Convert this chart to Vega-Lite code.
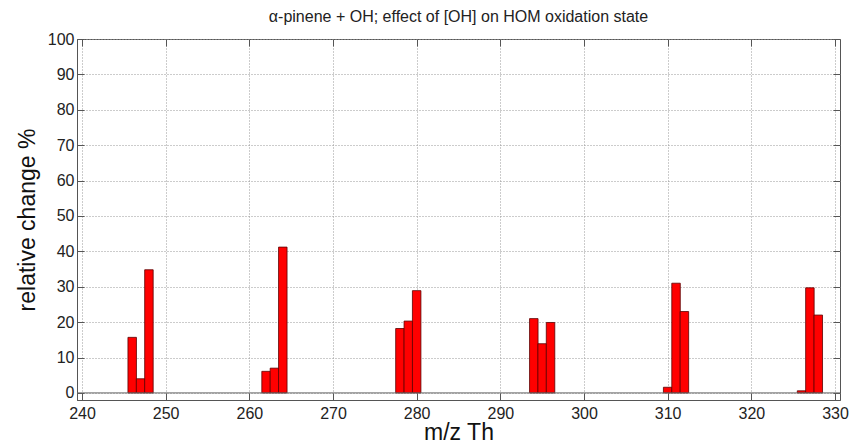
{
  "$schema": "https://vega.github.io/schema/vega-lite/v6.json",
  "width": 763,
  "height": 361,
  "autosize": "none",
  "padding": {"left": 77, "top": 39, "right": 17, "bottom": 44},
  "background": "white",
  "config": {
    "font": "Liberation Sans",
    "view": {"stroke": "#555555", "strokeWidth": 1},
    "axis": {"labelFont": "Liberation Sans", "titleFont": "Liberation Sans", "labelColor": "#222222", "titleColor": "#111111", "domainColor": "#555555", "tickColor": "#555555"}
  },
  "title": {
    "text": "α-pinene + OH; effect of [OH] on HOM oxidation state",
    "fontSize": 16,
    "fontWeight": "normal",
    "color": "#222222",
    "offset": 6,
    "anchor": "middle"
  },
  "datasets": {
    "bars": [
      {"mz": 246, "value": 15.7},
      {"mz": 247, "value": 4.0},
      {"mz": 248, "value": 34.8},
      {"mz": 262, "value": 6.1},
      {"mz": 263, "value": 7.0},
      {"mz": 264, "value": 41.2},
      {"mz": 278, "value": 18.2},
      {"mz": 279, "value": 20.3},
      {"mz": 280, "value": 28.9},
      {"mz": 294, "value": 21.0},
      {"mz": 295, "value": 13.9},
      {"mz": 296, "value": 19.9},
      {"mz": 310, "value": 1.6},
      {"mz": 311, "value": 31.0},
      {"mz": 312, "value": 23.0},
      {"mz": 326, "value": 0.6},
      {"mz": 327, "value": 29.7},
      {"mz": 328, "value": 22.0}
    ],
    "base": [{"y": 0}]
  },
  "layer": [
    {
      "data": {"name": "bars"},
      "mark": {"type": "bar", "width": 8.5, "color": "#ff0000", "stroke": "#5a0000", "strokeWidth": 0.8, "clip": true},
      "encoding": {
        "x": {
          "field": "mz", "type": "quantitative",
          "scale": {"domain": [240, 330], "nice": false, "zero": false},
          "axis": {
            "orient": "bottom",
            "values": [240, 250, 260, 270, 280, 290, 300, 310, 320, 330],
            "title": "m/z Th", "titleFontSize": 23, "titleFontWeight": "normal", "titlePadding": 0,
            "labelFontSize": 16, "labelPadding": 12, "tickSize": -7, "labelFlush": false,
            "grid": true, "gridDash": [1, 2], "gridColor": "#999999", "gridWidth": 1
          }
        },
        "y": {
          "field": "value", "type": "quantitative",
          "scale": {"domain": [-2, 100], "nice": false, "zero": false},
          "axis": {
            "orient": "left",
            "values": [0, 10, 20, 30, 40, 50, 60, 70, 80, 90, 100],
            "title": "relative change %", "titleFontSize": 23, "titleFontWeight": "normal", "titlePadding": 8,
            "labelFontSize": 16, "labelPadding": 10, "tickSize": -7, "labelFlush": false,
            "grid": true, "gridDash": [1, 2], "gridColor": "#999999", "gridWidth": 1
          }
        },
        "y2": {"datum": 0}
      }
    },
    {
      "data": {"name": "base"},
      "mark": {"type": "rule", "color": "#666666", "strokeWidth": 1},
      "encoding": {
        "y": {"field": "y", "type": "quantitative", "axis": null}
      }
    },
    {
      "data": {"name": "base"},
      "mark": {"type": "point", "opacity": 0},
      "encoding": {
        "x": {"field": "y", "type": "quantitative",
          "axis": {"orient": "top", "values": [240, 250, 260, 270, 280, 290, 300, 310, 320, 330], "labels": false, "title": null, "tickSize": -7, "grid": false, "domain": false}},
        "y": {"field": "y", "type": "quantitative",
          "axis": {"orient": "right", "values": [0, 10, 20, 30, 40, 50, 60, 70, 80, 90, 100], "labels": false, "title": null, "tickSize": -7, "grid": false, "domain": false}}
      }
    }
  ],
  "resolve": {"axis": {"x": "independent", "y": "independent"}}
}
